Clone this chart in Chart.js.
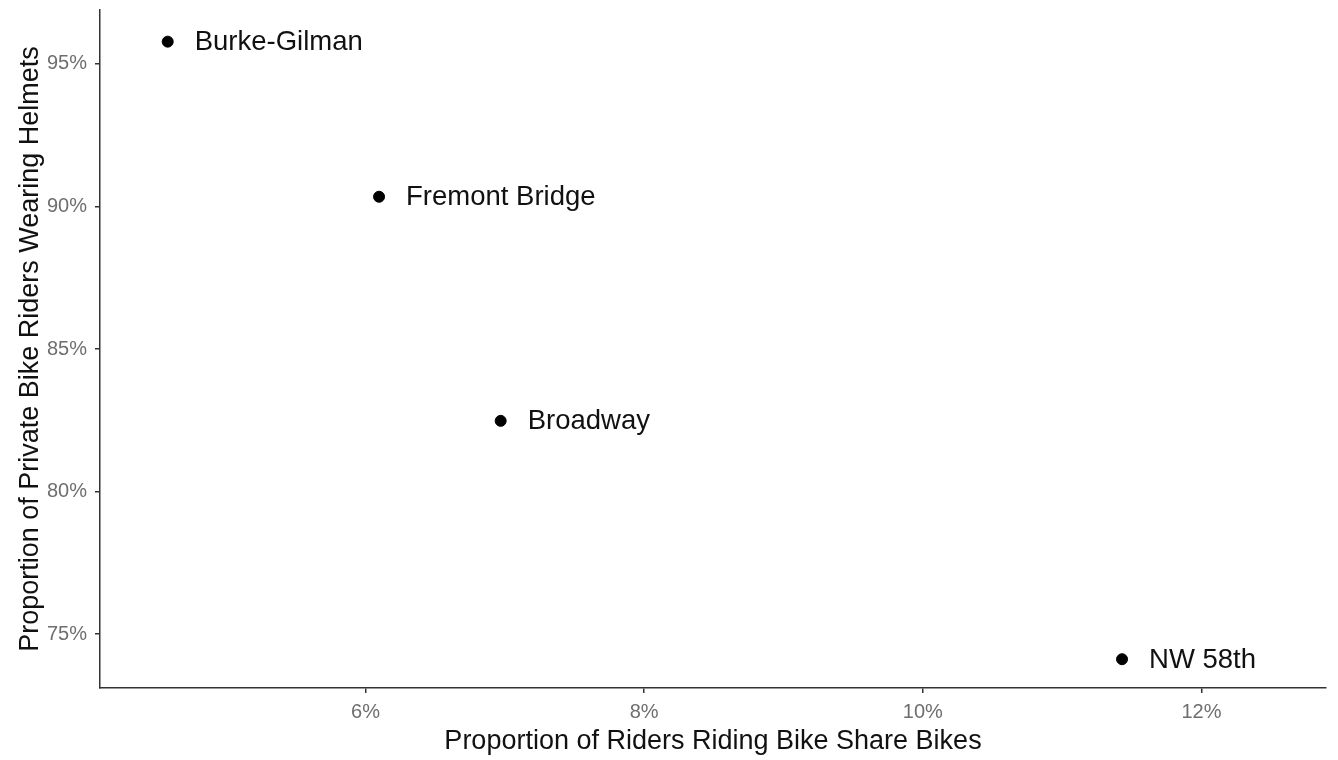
<!DOCTYPE html>
<html>
<head>
<meta charset="utf-8">
<script src="https://cdn.jsdelivr.net/npm/chart.js@4"></script>
<style>
  html, body { margin: 0; padding: 0; background: #fff; }
  #wrap { width: 1338px; height: 760px; }
</style>
</head>
<body>
<div id="wrap"><canvas id="chart"></canvas></div>
<script>
// site names and measured proportions (percent)
const sites = ['Burke-Gilman', 'Fremont Bridge', 'Broadway', 'NW 58th'];
const bikeShare = [4.58, 6.097, 6.97, 11.43];
const helmetUse = [95.78, 90.34, 82.48, 74.12];
const xTicks = [6, 8, 10, 12];
const yTicks = [75, 80, 85, 90, 95];

const font = "'Liberation Sans', Arial, Helvetica, sans-serif";

// draws the site name to the right of each point
const pointLabels = {
    id: 'pointLabels',
    afterDatasetsDraw(chart) {
        const ctx = chart.ctx;
        const meta = chart.getDatasetMeta(0);
        ctx.save();
        ctx.font = '27.5px ' + font;
        ctx.fillStyle = '#111';
        ctx.textAlign = 'left';
        ctx.textBaseline = 'middle';
        meta.data.forEach((pt, i) => {
            ctx.fillText(sites[i], pt.x + 27, pt.y + 1);
        });
        ctx.restore();
    }
};

new Chart(document.getElementById('chart').getContext('2d'), {
    type: 'scatter',
    data: {
        datasets: [{
            data: bikeShare.map((x, i) => ({ x: x, y: helmetUse[i] })),
            backgroundColor: '#000',
            borderColor: '#000',
            pointRadius: 5.5,
            pointHoverRadius: 5.5
        }]
    },
    options: {
        responsive: true,
        maintainAspectRatio: false,
        animation: false,
        layout: { padding: { top: 10, right: 12, left: 0, bottom: 0 } },
        plugins: {
            legend: { display: false },
            tooltip: { enabled: false }
        },
        scales: {
            x: {
                type: 'linear',
                min: 4.094,
                max: 12.894,
                afterBuildTicks: (scale) => { scale.ticks = xTicks.map(v => ({ value: v })); },
                afterFit: (scale) => {
                    scale.height = 72;
                    scale.paddingLeft = 0;
                    scale.paddingRight = 0;
                },
                grid: { drawOnChartArea: false, drawTicks: true, tickLength: 5, color: '#333', lineWidth: 1.5 },
                border: { display: true, color: '#333', width: 1.5 },
                ticks: {
                    color: '#6e6e6e',
                    font: { size: 20, family: font },
                    padding: 7,
                    maxRotation: 0,
                    callback: (v) => v + '%'
                },
                title: {
                    display: true,
                    text: 'Proportion of Riders Riding Bike Share Bikes',
                    color: '#111',
                    font: { size: 27, family: font },
                    padding: { top: 0, bottom: 2 }
                }
            },
            y: {
                type: 'linear',
                min: 73.11,
                max: 96.89,
                afterBuildTicks: (scale) => { scale.ticks = yTicks.map(v => ({ value: v })); },
                afterFit: (scale) => {
                    scale.width = 100;
                    scale.paddingTop = 0;
                    scale.paddingBottom = 0;
                },
                grid: { drawOnChartArea: false, drawTicks: true, tickLength: 5, color: '#333', lineWidth: 1.5 },
                border: { display: true, color: '#333', width: 1.5 },
                ticks: {
                    color: '#6e6e6e',
                    font: { size: 20, family: font },
                    padding: 8,
                    callback: (v) => v + '%'
                },
                title: {
                    display: true,
                    text: 'Proportion of Private Bike Riders Wearing Helmets',
                    color: '#111',
                    font: { size: 27, family: font },
                    padding: { top: 14, bottom: 0 }
                }
            }
        }
    },
    plugins: [pointLabels]
});
</script>
</body>
</html>
